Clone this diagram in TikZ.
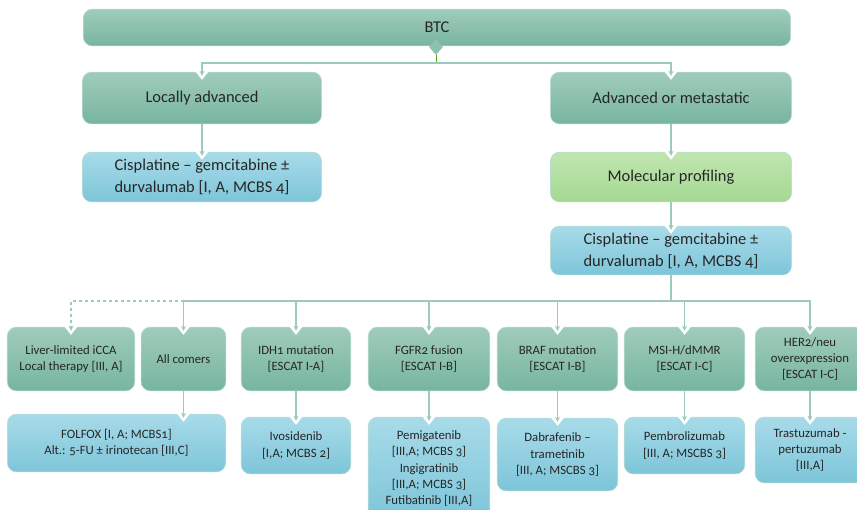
\documentclass[tikz,border=0pt]{standalone}
\usepackage{fontspec}
\setmainfont{Carlito}[Numbers=OldStyle]
\usepackage{tikz}
\usetikzlibrary{arrows.meta,calc,shapes.geometric}
\definecolor{tealtop}{HTML}{A0CCBA}
\definecolor{tealbot}{HTML}{77B5A0}
\definecolor{bluetop}{HTML}{A8DBE9}
\definecolor{bluebot}{HTML}{7DC5D9}
\definecolor{greentop}{HTML}{C0E5B0}
\definecolor{greenbot}{HTML}{A4D992}
\definecolor{linkcol}{HTML}{9CCBBC}
\definecolor{edgecol}{HTML}{B9DDD0}
\definecolor{diacol}{HTML}{8EC2AE}
\newcommand{\notch}[1]{\path[fill=white,draw=none] ($(#1)+(-8,-2)$) -- ($(#1)+(8,-2)$) -- ($(#1)+(0,8)$) -- cycle;}

\begin{document}
\begin{tikzpicture}[x=1bp,y=-1bp,
  box/.style={draw=edgecol,line width=0.6bp,rounded corners=9bp,inner sep=2bp,align=center,text=black!85},
  teal/.style={box,top color=tealtop,bottom color=tealbot},
  blue/.style={box,top color=bluetop,bottom color=bluebot},
  green/.style={box,top color=greentop,bottom color=greenbot},
  big/.style={font=\fontsize{16.5}{22}\selectfont},
  small/.style={font=\fontsize{12.8}{16.5}\selectfont},
  link/.style={draw=linkcol,line width=1.4bp},
  tip/.style={-{Stealth[length=5bp,width=5bp]},shorten >=-4bp}]
  \useasboundingbox (0,0) rectangle (857,510);

  % top levels
  \node[teal,big,minimum width=710,minimum height=37] (btc) at (437,27.5) {BTC};
  \node[teal,big,minimum width=240,minimum height=52] (loc) at (202,98) {Locally advanced};
  \node[teal,big,minimum width=242,minimum height=52] (adv) at (671,98) {Advanced or metastatic};
  \node[blue,big,minimum width=240,minimum height=50] (cisL) at (202,177) {Cisplatine – gemcitabine ±\\durvalumab [I, A, MCBS 4]};
  \node[green,big,minimum width=242,minimum height=50] (mol) at (671,177) {Molecular profiling};
  \node[blue,big,minimum width=242,minimum height=49] (cisR) at (671,250.5) {Cisplatine – gemcitabine ±\\durvalumab [I, A, MCBS 4]};

  % subgroups
  \node[teal,small,minimum width=128,minimum height=64] (liver) at (71,359) {Liver-limited iCCA\\Local therapy [III, A]};
  \node[teal,small,minimum width=85,minimum height=64] (comers) at (183.5,359) {All comers};
  \node[teal,small,minimum width=110,minimum height=64] (idh) at (296,359) {IDH1 mutation\\{[}ESCAT I-A]};
  \node[teal,small,minimum width=122,minimum height=64] (fgfr) at (429,359) {FGFR2 fusion\\{[}ESCAT I-B]};
  \node[teal,small,minimum width=121,minimum height=64] (braf) at (557.5,359) {BRAF mutation\\{[}ESCAT I-B]};
  \node[teal,small,minimum width=121,minimum height=64] (msi) at (684.5,359) {MSI-H/dMMR\\{[}ESCAT I-C]};
  \node[teal,small,minimum width=110,minimum height=64] (her) at (810,359) {HER2/neu\\overexpression\\{[}ESCAT I-C]};

  % treatments
  \node[blue,small,minimum width=219,minimum height=58] (folfox) at (116.5,443) {FOLFOX [I, A; MCBS1]\\Alt.: 5-FU ± irinotecan [III,C]};
  \node[blue,small,minimum width=110,minimum height=57] (ivo) at (296,445.5) {Ivosidenib\\{[}I,A; MCBS 2]};
  \node[blue,small,minimum width=122,minimum height=103] (pemi) at (429,468.5) {Pemigatenib\\{[}III,A; MCBS 3]\\Ingigratinib\\{[}III,A; MCBS 3]\\Futibatinib [III,A]};
  \node[blue,small,minimum width=121,minimum height=73] (dab) at (557.5,454.5) {Dabrafenib –\\trametinib\\{[}III, A; MSCBS 3]};
  \node[blue,small,minimum width=121,minimum height=57] (pemb) at (684.5,445.5) {Pembrolizumab\\{[}III, A; MSCBS 3]};
  \node[blue,small,minimum width=110,minimum height=66] (tras) at (810,450) {Trastuzumab -\\pertuzumab\\{[}III,A]};

  \coordinate (folfoxin) at (comers.south |- folfox.north);
  \foreach \n in {loc,adv,cisL,mol,cisR,liver,comers,idh,fgfr,braf,msi,her,ivo,pemi,dab,pemb,tras}
    {\notch{\n.north}}
  \notch{folfoxin}

  % connectors
  \node[diamond,fill=diacol,inner sep=0,minimum width=14,minimum height=16] (dia) at (436,47) {};
  \coordinate (split) at (436,63);
  \draw[green!45!black!60!lime,line width=0.8bp] (dia.south) -- (split);
  \draw[link,tip] (split) -| (loc.north);
  \draw[link,tip] (split) -| (adv.north);
  \draw[link,tip] (loc.south) -- (cisL.north);
  \draw[link,tip] (adv.south) -- (mol.north);
  \draw[link,tip] (mol.south) -- (cisR.north);

  \coordinate (bus) at (671,301);
  \draw[link] (cisR.south) -- (bus);
  \foreach \n in {comers,idh,fgfr,braf,msi,her}
    \draw[link,tip] (bus) -| (\n.north);
  \draw[link,tip,dashed] (comers.north |- bus) -| (liver.north);

  \draw[link,tip] (comers.south) -- (folfoxin);
  \foreach \a/\b in {idh/ivo,fgfr/pemi,braf/dab,msi/pemb,her/tras}
    \draw[link,tip] (\a.south) -- (\b.north);
\end{tikzpicture}
\end{document}
